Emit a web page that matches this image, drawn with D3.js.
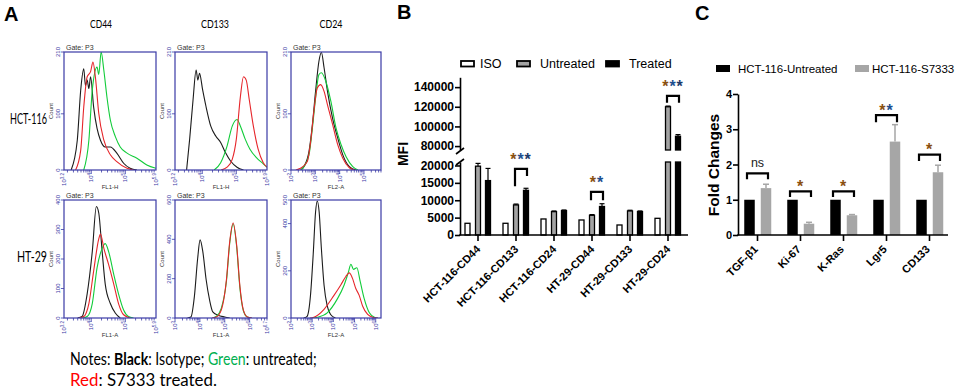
<!DOCTYPE html>
<html><head><meta charset="utf-8">
<script src="https://cdn.jsdelivr.net/npm/d3@7"></script>
<style>body{margin:0;background:#fff}svg{display:block}</style>
</head><body>
<svg id="c" width="955" height="389"></svg>
<script>
// ================= DATA =================
// Panel A: flow cytometry histograms, points are [log10 fluorescence, count]
const hctCD44Black = [[3.41,0],[3.59,53],[3.69,142],[3.78,180],[3.83,150],[3.88,160],[3.93,145],[3.98,166],[4.07,112],[4.17,74],[4.27,53],[4.41,41],[4.56,41],[4.75,30],[4.95,12],[5.14,3],[5.34,0]];
const hctCD44Green = [[3.78,0],[3.93,53],[4.03,142],[4.17,183],[4.22,170],[4.29,210],[4.37,177],[4.46,130],[4.56,89],[4.71,59],[4.85,41],[5.05,30],[5.34,21],[5.63,9],[5.9,3]];
const hctCD44Red = [[3.54,0],[3.69,35],[3.78,112],[3.88,166],[3.98,175],[4.05,192],[4.12,166],[4.22,101],[4.37,53],[4.56,27],[4.75,15],[5.05,3],[5.24,0]];
const hctCD133Black = [[3.54,0],[3.63,55],[3.73,125],[3.82,178],[3.87,160],[3.92,172],[4.01,143],[4.11,113],[4.25,78],[4.40,60],[4.54,49],[4.68,31],[4.83,16],[5.02,5],[5.21,0]];
const hctCD133Green = [[4.35,0],[4.54,13],[4.73,43],[4.88,78],[5.02,90],[5.12,78],[5.26,55],[5.40,37],[5.59,22],[5.79,11],[5.9,5]];
const hctCD133Red = [[4.55,0],[4.73,5],[4.88,19],[5.0,55],[5.12,131],[5.21,166],[5.29,160],[5.38,125],[5.50,78],[5.64,37],[5.79,13],[5.9,5]];
const hctCD24Black = [[2.4,0],[2.53,6],[2.74,33],[2.88,81],[3.01,140],[3.15,194],[3.25,209],[3.36,182],[3.50,140],[3.71,92],[3.92,57],[4.13,27],[4.40,6],[4.68,0]];
const hctCD24Green = [[2.4,0],[2.53,6],[2.74,27],[2.88,75],[3.01,128],[3.15,170],[3.25,173],[3.43,158],[3.64,122],[3.85,75],[4.06,45],[4.26,24],[4.54,6],[4.75,0]];
const hctCD24Red = [[2.2,0],[2.39,3],[2.67,15],[2.81,51],[2.94,104],[3.08,146],[3.22,152],[3.36,140],[3.50,116],[3.71,81],[3.92,45],[4.13,21],[4.40,4],[4.61,0]];
const htCD44Black = [[3.6,0],[3.73,5],[3.88,82],[4.03,225],[4.15,378],[4.22,356],[4.32,225],[4.41,115],[4.56,49],[4.71,16],[4.85,0]];
const htCD44Green = [[3.75,0],[3.88,5],[4.03,49],[4.17,170],[4.32,236],[4.41,252],[4.51,225],[4.66,148],[4.80,82],[4.95,27],[5.09,5],[5.24,0]];
const htCD44Red = [[3.65,0],[3.78,5],[3.93,49],[4.07,159],[4.22,268],[4.27,285],[4.37,236],[4.51,181],[4.66,115],[4.80,49],[4.95,11],[5.14,0]];
const htCD133Black = [[3.5,0],[3.64,5],[3.78,110],[3.91,301],[4.01,397],[4.12,336],[4.25,197],[4.39,92],[4.52,31],[4.73,14],[5.0,5],[5.2,0]];
const htCD133Green = [[4.5,0],[4.66,8],[4.86,49],[5.07,188],[5.20,379],[5.34,478],[5.48,362],[5.61,153],[5.75,37],[5.91,5],[6.09,0]];
const htCD133Red = [[4.5,0],[4.66,5],[4.86,40],[5.07,197],[5.20,388],[5.34,483],[5.48,370],[5.61,162],[5.75,40],[5.91,5],[6.09,0]];
const htCD24Black = [[2.6,0],[2.76,7],[2.92,96],[3.05,272],[3.16,449],[3.24,496],[3.33,449],[3.43,301],[3.56,140],[3.71,51],[3.87,15],[4.1,0]];
const htCD24Green = [[3.0,0],[3.24,3],[3.71,22],[4.19,81],[4.51,140],[4.70,191],[4.83,228],[4.95,206],[5.11,213],[5.27,154],[5.46,81],[5.70,22],[5.94,3],[6.1,0]];
const htCD24Red = [[2.9,0],[3.08,3],[3.56,37],[4.03,96],[4.35,140],[4.59,176],[4.75,191],[4.90,169],[5.06,125],[5.22,96],[5.38,51],[5.62,15],[5.86,3],[6.1,0]];
const markerTitles = ["CD44","CD133","CD24"];
const cellLines = ["HCT-116","HT-29"];

// Panel B: MFI
const mfiCategories = ["HCT-116-CD44","HCT-116-CD133","HCT-116-CD24","HT-29-CD44","HT-29-CD133","HT-29-CD24"];
const mfiISO = [3370,3370,4610,4320,2880,4800];
const mfiUntreated = [19800,8650,6720,5670,6920,120000];
const mfiTreated = [15650,12840,7000,8200,6720,90000];
const mfiUntreatedErr = [800,250,200,200,200,700];
const mfiTreatedErr = [3500,600,200,800,200,1700];
const mfiLowTicks = [0,5000,10000,15000,20000];
const mfiHighTicks = [80000,100000,120000,140000];
const mfiSeries = ["ISO","Untreated","Treated"];
const sigBCats = ["HCT-116-CD133","HT-29-CD44","HT-29-CD24"];
const sigBLabels = ["***","**","***"];
const sigBTop = [19000,12400,131000];
const sigBLeftLeg = [14000,10000,124000];
const sigBRightLeg = [17000,10000,124000];

// Panel C: fold changes
const geneCategories = ["TGF-β1","Ki-67","K-Ras","Lgr5","CD133"];
const foldUntreated = [1,1,1,1,1];
const foldS7333 = [1.33,0.32,0.56,2.65,1.78];
const foldS7333Err = [0.11,0.04,0.02,0.48,0.2];
const foldTicks = [0,1,2,3,4];
const foldSeries = ["HCT-116-Untreated","HCT-116-S7333"];
const sigCLabels = ["ns","*","*","**","*"];
const sigCTop = [1.75,1.24,1.24,3.4,2.28];
const sigCLeg = [1.58,1.08,1.08,3.2,2.1];

// ================= DRAW =================
const svg = d3.select("#c");
const AR = "'Liberation Sans', Arial, Helvetica, sans-serif";
const LA = "Lato, 'Open Sans', sans-serif";
const BLUE = "#3a3aa6";

// ---------- Panel A ----------
svg.append("text").attr("x",4).attr("y",21).attr("font-family",AR).attr("font-weight","bold").attr("font-size",20).text("A");
const colL=[64,175,291], colR=[156,267,381], rowT=[52,200], rowB=[170,318];
const colMid=[101,215,331], colW=[22,28,23];
markerTitles.forEach((t,i)=>svg.append("text").attr("x",colMid[i]).attr("y",28).attr("text-anchor","middle")
  .attr("font-family",LA).attr("font-size",11.5).attr("textLength",colW[i]).attr("lengthAdjust","spacingAndGlyphs").text(t));
svg.append("text").attr("x",10).attr("y",124).attr("font-family",LA).attr("font-size",15).attr("textLength",37).attr("lengthAdjust","spacingAndGlyphs").text(cellLines[0]);
svg.append("text").attr("x",17).attr("y",262).attr("font-family",LA).attr("font-size",15).attr("textLength",30).attr("lengthAdjust","spacingAndGlyphs").text(cellLines[1]);

const histPlots = [
 {r:0,c:0,xd:[3.2,5.9],ymax:210,yt:[0,100,210],xl:[3.2,4,5,5.9],xt:"FL1-H",k:hctCD44Black,g:hctCD44Green,rd:hctCD44Red},
 {r:0,c:1,xd:[3.2,5.9],ymax:210,yt:[0,100,210],xl:[3.2,4,5,5.9],xt:"FL1-H",k:hctCD133Black,g:hctCD133Green,rd:hctCD133Red},
 {r:0,c:2,xd:[2,5.7],ymax:210,yt:[0,100,210],xl:[2,3,4,5],xt:"FL2-A",k:hctCD24Black,g:hctCD24Green,rd:hctCD24Red},
 {r:1,c:0,xd:[3.2,5.9],ymax:400,yt:[0,100,200,300,400],xl:[3.2,4,5,5.9],xt:"FL1-A",k:htCD44Black,g:htCD44Green,rd:htCD44Red},
 {r:1,c:1,xd:[3,6.7],ymax:600,yt:[0,200,400,600],xl:[3,4,5,6,6.7],xt:"FL1-A",k:htCD133Black,g:htCD133Green,rd:htCD133Red},
 {r:1,c:2,xd:[2,6.25],ymax:500,yt:[0,200,400,500],xl:[2,3,4,5,6],xt:"FL2-A",k:htCD24Black,g:htCD24Green,rd:htCD24Red}
];
const defs = svg.append("defs");
histPlots.forEach((p,pi)=>{
  const L=colL[p.c],R=colR[p.c],T=rowT[p.r],B=rowB[p.r];
  const x=d3.scaleLinear().domain(p.xd).range([L,R]);
  const y=d3.scaleLinear().domain([0,p.ymax]).range([B,T]);
  const cid="hc"+pi;
  defs.append("clipPath").attr("id",cid).append("rect").attr("x",L).attr("y",T).attr("width",R-L).attr("height",B-T);
  const g=svg.append("g");
  const line=d3.line().x(d=>x(d[0])).y(d=>y(d[1])).curve(d3.curveMonotoneX);
  [["#1c1c1c",p.k],["#12cc3a",p.g],["#e6262b",p.rd]].forEach(([col,d])=>{
    g.append("path").attr("d",line(d)).attr("fill","none").attr("stroke",col).attr("stroke-width",1.1).attr("clip-path",`url(#${cid})`);
  });
  g.append("rect").attr("x",L).attr("y",T).attr("width",R-L).attr("height",B-T).attr("fill","none").attr("stroke",BLUE).attr("stroke-width",1.2);
  g.append("text").attr("x",L+2).attr("y",T-2).attr("font-family",AR).attr("font-size",7).attr("fill","#333").text("Gate: P3");
  for(let dd=Math.floor(p.xd[0]); dd<=Math.ceil(p.xd[1]); dd++){
    for(let m=1;m<10;m++){
      const v=dd+Math.log10(m);
      if(v<p.xd[0]||v>p.xd[1]) continue;
      g.append("line").attr("x1",x(v)).attr("x2",x(v)).attr("y1",B).attr("y2",B+(m===1?4:2.5)).attr("stroke",BLUE).attr("stroke-width",0.8);
    }
  }
  p.xl.forEach(v=>{
    const t=g.append("text").attr("transform",`translate(${x(v)},${B+3}) rotate(-90)`).attr("text-anchor","end").attr("dy","0.35em")
      .attr("font-family",AR).attr("font-size",6).attr("fill",BLUE);
    t.append("tspan").text("10");
    t.append("tspan").attr("dy","-2").attr("font-size",4.5).text(v);
  });
  g.append("text").attr("x",(L+R)/2).attr("y",B+19).attr("text-anchor","middle").attr("font-family",AR).attr("font-size",6).attr("fill","#333").text(p.xt);
  p.yt.forEach(v=>{
    g.append("line").attr("x1",L-3).attr("x2",L).attr("y1",y(v)).attr("y2",y(v)).attr("stroke",BLUE).attr("stroke-width",0.8);
    g.append("text").attr("transform",`translate(${L-4},${y(v)}) rotate(-90)`).attr("text-anchor","middle")
      .attr("font-family",AR).attr("font-size",6).attr("fill",BLUE).text(v);
  });
  g.append("text").attr("transform",`translate(${L-11},${(T+B)/2}) rotate(-90)`).attr("text-anchor","middle")
    .attr("font-family",AR).attr("font-size",6).attr("fill","#333").text("Count");
});
// Notes: natural width, then scaled horizontally to match the compressed original
function noteLine(yb, parts, targetW){
  const g=svg.append("g");
  const t=g.append("text").attr("x",0).attr("y",0).attr("font-family",LA).attr("font-size",16.5);
  parts.forEach(([txt,fill,bold])=>{
    const s=t.append("tspan").text(txt);
    if(fill) s.attr("fill",fill);
    if(bold) s.attr("font-weight","bold");
  });
  const w=t.node().getComputedTextLength();
  g.attr("transform",`translate(70,${yb}) scale(${targetW/w},1)`);
}
noteLine(365,[["Notes: "],["Black",null,true],[": Isotype; "],["Green","#00b050"],[": untreated;"]],247);
noteLine(386,[["Red","#ff0000"],[": S7333 treated."]],147);

// ---------- Panel B ----------
svg.append("text").attr("x",397).attr("y",19).attr("font-family",AR).attr("font-weight","bold").attr("font-size",20).text("B");
const bx=d3.scalePoint().domain(mfiCategories).range([478,668]);
const yLow=d3.scaleLinear().domain([0,21000]).range([235,162]);
const yHigh=d3.scaleLinear().domain([76000,150000]).range([150,77.3]);
const bOff=[-10.5,0,10], bW=5;
const bFill=["#ffffff","#a3a3a3","#000000"];
const bVals=[mfiISO,mfiUntreated,mfiTreated];
const bErr=[null,mfiUntreatedErr,mfiTreatedErr];
const gB=svg.append("g");
bVals.forEach((vals,si)=>{
  vals.forEach((v,ci)=>{
    const cx=bx(mfiCategories[ci])+bOff[si];
    const segs = v<=21000 ? [[yLow(v),yLow(0)]] : [[yLow(21000),yLow(0)],[yHigh(v),yHigh(76000)]];
    segs.forEach(([y0,y1])=>gB.append("rect").attr("x",cx-bW/2).attr("y",y0).attr("width",bW).attr("height",y1-y0)
      .attr("fill",bFill[si]).attr("stroke","#000").attr("stroke-width",1.3));
    if(bErr[si]){
      const e=bErr[si][ci], yS=v<=21000?yLow:yHigh;
      gB.append("line").attr("x1",cx).attr("x2",cx).attr("y1",yS(v)).attr("y2",yS(v+e)).attr("stroke","#000").attr("stroke-width",1.2);
      gB.append("line").attr("x1",cx-2.5).attr("x2",cx+2.5).attr("y1",yS(v+e)).attr("y2",yS(v+e)).attr("stroke","#000").attr("stroke-width",1.2);
    }
  });
});
const axLow=gB.append("g").attr("transform","translate(460,0)").call(d3.axisLeft(yLow).tickValues(mfiLowTicks).tickSize(5).tickSizeOuter(0).tickFormat(d3.format("d")));
const axHigh=gB.append("g").attr("transform","translate(460,0)").call(d3.axisLeft(yHigh).tickValues(mfiHighTicks).tickSize(5).tickSizeOuter(0).tickFormat(d3.format("d")));
[axLow,axHigh].forEach(a=>{
  a.selectAll("path,line").attr("stroke","#000").attr("stroke-width",1.6);
  a.selectAll("text").attr("font-family",AR).attr("font-weight","bold").attr("font-size",12).attr("fill","#000").attr("x",-6);
});
gB.append("line").attr("x1",456).attr("x2",464).attr("y1",165).attr("y2",159).attr("stroke","#000").attr("stroke-width",1.6);
gB.append("line").attr("x1",456).attr("x2",464).attr("y1",154).attr("y2",148).attr("stroke","#000").attr("stroke-width",1.6);
gB.append("line").attr("x1",459.2).attr("x2",688).attr("y1",235).attr("y2",235).attr("stroke","#000").attr("stroke-width",1.6);
mfiCategories.forEach(c=>{
  const xx=bx(c);
  gB.append("line").attr("x1",xx).attr("x2",xx).attr("y1",235).attr("y2",241).attr("stroke","#000").attr("stroke-width",1.6);
  gB.append("text").attr("transform",`translate(${xx+3},${250}) rotate(-45)`).attr("text-anchor","end")
    .attr("font-family",AR).attr("font-weight","bold").attr("font-size",11).text(c);
});
gB.append("text").attr("transform","translate(408,154) rotate(-90)").attr("text-anchor","middle")
  .attr("font-family",AR).attr("font-weight","bold").attr("font-size",14).text("MFI");
const legBx=[460,516,605], legTx=[480,540,629];
mfiSeries.forEach((s,i)=>{
  gB.append("rect").attr("x",legBx[i]+1).attr("y",61).attr("width",13).attr("height",5.5).attr("fill",bFill[i]).attr("stroke","#000").attr("stroke-width",1.8);
  gB.append("text").attr("x",legTx[i]).attr("y",68).attr("font-family",AR).attr("font-size",12.5).text(s);
});
const starCols=["#8a5010","#1d4f8f","#1d3a6a"];
function stars(g,x,y,label,size){
  const t=g.append("text").attr("x",x).attr("y",y).attr("text-anchor","middle").attr("font-family",AR).attr("font-weight","bold").attr("font-size",size).attr("letter-spacing",1);
  label.split("").forEach((ch,i)=>t.append("tspan").attr("fill",starCols[i%3]).text(ch));
}
sigBCats.forEach((c,i)=>{
  const ci=mfiCategories.indexOf(c);
  const yS=mfiUntreated[ci]>21000?yHigh:yLow;
  const x0=bx(c)+bOff[1]-1, x1=bx(c)+bOff[2]+1;
  const yt=yS(sigBTop[i]);
  gB.append("path").attr("d",`M${x0},${yS(sigBLeftLeg[i])}V${yt}H${x1}V${yS(sigBRightLeg[i])}`).attr("fill","none").attr("stroke","#000").attr("stroke-width",2.2);
  stars(gB,(x0+x1)/2,yt-3.5,sigBLabels[i],16);
});

// ---------- Panel C ----------
svg.append("text").attr("x",695).attr("y",20).attr("font-family",AR).attr("font-weight","bold").attr("font-size",20).text("C");
const cx=d3.scalePoint().domain(geneCategories).range([757.5,929.5]);
const cy=d3.scaleLinear().domain([0,4]).range([235,94]);
const gC=svg.append("g");
const cW=10.5;
geneCategories.forEach((gname,i)=>{
  const xc=cx(gname);
  gC.append("rect").attr("x",xc-8-cW/2).attr("y",cy(foldUntreated[i])).attr("width",cW).attr("height",cy(0)-cy(foldUntreated[i])).attr("fill","#000");
  gC.append("rect").attr("x",xc+8.5-cW/2).attr("y",cy(foldS7333[i])).attr("width",cW).attr("height",cy(0)-cy(foldS7333[i])).attr("fill","#a6a6a6");
  const ex=xc+8.5, top=foldS7333[i]+foldS7333Err[i];
  gC.append("line").attr("x1",ex).attr("x2",ex).attr("y1",cy(foldS7333[i])).attr("y2",cy(top)).attr("stroke","#a6a6a6").attr("stroke-width",1.5);
  gC.append("line").attr("x1",ex-3).attr("x2",ex+3).attr("y1",cy(top)).attr("y2",cy(top)).attr("stroke","#a6a6a6").attr("stroke-width",1.5);
  const x0=xc-10.5, x1=xc+10.5, yt=cy(sigCTop[i]), yl=cy(sigCLeg[i]);
  gC.append("path").attr("d",`M${x0},${yl}V${yt}H${x1}V${yl}`).attr("fill","none").attr("stroke","#000").attr("stroke-width",2.2);
  if(sigCLabels[i]==="ns"){
    gC.append("text").attr("x",xc).attr("y",yt-6).attr("text-anchor","middle").attr("font-family",AR).attr("font-size",12.5).attr("fill","#222").text("ns");
  } else {
    stars(gC,xc,yt+0.5,sigCLabels[i],16);
  }
  gC.append("line").attr("x1",xc).attr("x2",xc).attr("y1",235).attr("y2",241).attr("stroke","#000").attr("stroke-width",1.6);
  gC.append("text").attr("transform",`translate(${xc+1},${250}) rotate(-45)`).attr("text-anchor","end")
    .attr("font-family",AR).attr("font-weight","bold").attr("font-size",11).text(gname);
});
const axC=gC.append("g").attr("transform","translate(738,0)").call(d3.axisLeft(cy).tickValues(foldTicks).tickSize(5).tickSizeOuter(0).tickFormat(d3.format("d")));
axC.selectAll("path,line").attr("stroke","#000").attr("stroke-width",1.6);
axC.selectAll("text").attr("font-family",AR).attr("font-weight","bold").attr("font-size",11).attr("fill","#000").attr("x",-6);
gC.append("line").attr("x1",737.2).attr("x2",948).attr("y1",235).attr("y2",235).attr("stroke","#000").attr("stroke-width",1.6);
gC.append("text").attr("transform","translate(719,165) rotate(-90)").attr("text-anchor","middle")
  .attr("font-family",AR).attr("font-weight","bold").attr("font-size",15.5).text("Fold Changes");
const legCx=[716,855], legCt=[738,872], legCf=["#000","#a6a6a6"];
foldSeries.forEach((s,i)=>{
  gC.append("rect").attr("x",legCx[i]).attr("y",65).attr("width",14).attr("height",7).attr("fill",legCf[i]);
  gC.append("text").attr("x",legCt[i]).attr("y",72.5).attr("font-family",AR).attr("font-size",11.5).text(s);
});
</script>
</body></html>
